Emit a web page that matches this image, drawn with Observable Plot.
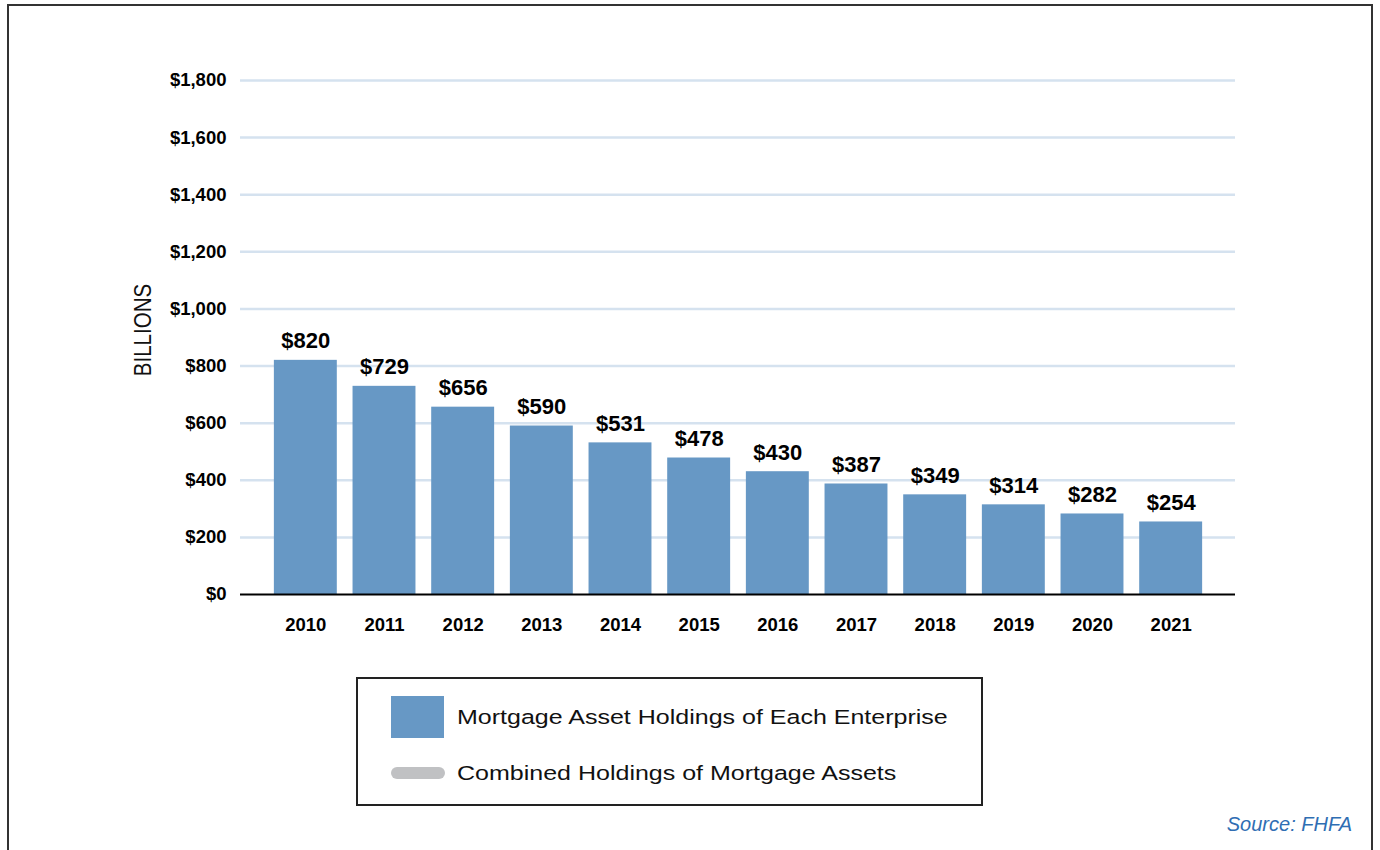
<!DOCTYPE html>
<html>
<head>
<meta charset="utf-8">
<script src="https://cdn.jsdelivr.net/npm/d3@7"></script>
<script src="https://cdn.jsdelivr.net/npm/@observablehq/plot@0.6"></script>
<style>
  html, body { margin: 0; padding: 0; background: #fff; }
  #wrap { position: relative; width: 1380px; height: 850px; overflow: hidden; font-family: "Liberation Sans", Arial, sans-serif; }
  #frame { position: absolute; left: 7px; top: 4px; width: 1366px; height: 900px; border: 2px solid #333; box-sizing: border-box; }
  #chart { position: absolute; left: 0; top: 0; }
  #ylabel { position: absolute; left: 143px; top: 330px; transform: translate(-50%, -50%) rotate(-90deg) scaleY(1.15); font-size: 20.5px; color: #111; white-space: nowrap; }
  #legend { position: absolute; left: 356px; top: 677px; width: 627px; height: 129px; border: 2px solid #222; box-sizing: border-box; }
  .item { position: absolute; left: 33px; display: flex; align-items: center; font-size: 20.5px; color: #111; white-space: nowrap; }
  .item span { display: inline-block; transform: scaleX(1.22); transform-origin: left center; }
  .sw1 { width: 53px; height: 42px; background: #6798c5; margin-right: 13px; }
  .sw2 { width: 54px; height: 12px; background: #c0c1c3; border-radius: 6px; margin-right: 12px; }
  #source { position: absolute; right: 28px; top: 813px; font-size: 20px; font-style: italic; color: #2f6eb3; }
</style>
</head>
<body>
<div id="wrap">
  <div id="frame"></div>
  <div id="chart"></div>
  <div id="ylabel">BILLIONS</div>
  <div id="legend">
    <div class="item" style="top:17px"><div class="sw1"></div><span>Mortgage Asset Holdings of Each Enterprise</span></div>
    <div class="item" style="top:82px"><div class="sw2"></div><span>Combined Holdings of Mortgage Assets</span></div>
  </div>
  <div id="source">Source: FHFA</div>
</div>
<script>
const years = ["2010","2011","2012","2013","2014","2015","2016","2017","2018","2019","2020","2021"];
const holdings = [820, 729, 656, 590, 531, 478, 430, 387, 349, 314, 282, 254];
const yTicks = [0, 200, 400, 600, 800, 1000, 1200, 1400, 1600, 1800];

const data = years.map((y, i) => ({year: y, value: holdings[i]}));
const money = d => "$" + d3.format(",")(d);

const chart = Plot.plot({
  width: 1380,
  height: 650,
  marginLeft: 240,
  marginRight: 145,
  marginTop: 80,
  marginBottom: 56,
  style: {fontFamily: '"Liberation Sans", Arial, sans-serif', background: "transparent", overflow: "visible"},
  x: {domain: years, paddingInner: 0.2, paddingOuter: 0.1, round: false, insetLeft: 26, insetRight: 25, label: null},
  y: {domain: [0, 1800], label: null},
  marks: [
    Plot.ruleY(yTicks.filter(d => d > 0), {stroke: "#d5e2ef", strokeWidth: 2.5}),
    Plot.barY(data, {x: "year", y: "value", fill: "#6798c5"}),
    Plot.ruleY([0], {stroke: "#000", strokeWidth: 2}),
    Plot.text(data, {x: "year", y: "value", text: d => money(d.value), lineAnchor: "bottom", dy: -12, fontSize: 22, fontWeight: "bold", fill: "#000"}),
    Plot.axisY({ticks: yTicks, tickFormat: money, tickSize: 0, tickPadding: 14, fontSize: 18.5, fontWeight: "bold", label: null, color: "#000"}),
    Plot.axisX({tickSize: 0, tickPadding: 23, fontSize: 18.5, fontWeight: "bold", label: null, color: "#000"})
  ]
});
document.getElementById("chart").appendChild(chart);
</script>
</body>
</html>
